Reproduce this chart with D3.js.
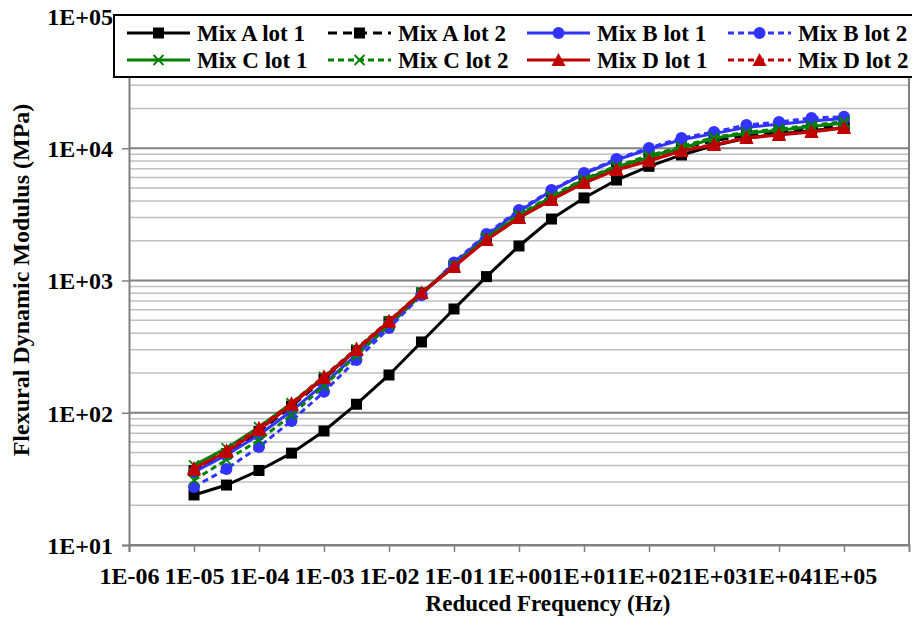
<!DOCTYPE html>
<html>
<head>
<meta charset="utf-8">
<script src="https://cdn.jsdelivr.net/npm/d3@7"></script>
<style>
  html, body { margin: 0; padding: 0; background: #fff; }
  svg text { font-family: "Liberation Serif", "Times New Roman", serif; font-weight: bold; }
</style>
</head>
<body>
<svg id="chart" width="912" height="617"></svg>
<script>
// Reduced frequency (Hz) at half-decade steps
const frequency = [1e-5, 3.16e-5, 1e-4, 3.16e-4, 1e-3, 3.16e-3, 1e-2, 3.16e-2, 1e-1, 3.16e-1,
                   1e0, 3.16e0, 1e1, 3.16e1, 1e2, 3.16e2, 1e3, 3.16e3, 1e4, 3.16e4, 1e5];

// Flexural dynamic modulus (MPa)
const mixALot1 = [23.9, 28.4, 36.6, 49.5, 72.8, 116, 193, 343, 609, 1070, 1824, 2917, 4210, 5750, 7300, 8900, 10500, 11900, 12800, 13600, 14300];
const mixALot2 = [36.5, 49, 72, 112, 180, 295, 488, 805, 1285, 2090, 3080, 4250, 5750, 7200, 8600, 10100, 11400, 12500, 13400, 14200, 14900];
const mixBLot1 = [35.5, 48, 68, 103, 165, 275, 455, 785, 1340, 2200, 3330, 4780, 6400, 8150, 9850, 11600, 12900, 14400, 15200, 16100, 16800];
const mixBLot2 = [27.5, 37.6, 55.1, 86.7, 144, 251, 437, 775, 1370, 2250, 3410, 4830, 6500, 8300, 10050, 11960, 13270, 14990, 15780, 16930, 17300];
const mixCLot1 = [40, 54, 78, 118, 187, 302, 492, 812, 1290, 2080, 3080, 4250, 5700, 7150, 8550, 10000, 11900, 13000, 13700, 14600, 15500];
const mixCLot2 = [31, 44, 62, 96, 160, 272, 460, 790, 1300, 2120, 3150, 4350, 5850, 7350, 8800, 10300, 12100, 13200, 14000, 14900, 15900];
const mixDLot1 = [38.2, 50.5, 74.1, 114.6, 183, 298, 486, 805, 1265, 2025, 2970, 4060, 5460, 6850, 8010, 9530, 10590, 11960, 12590, 13270, 14230];
const mixDLot2 = [37, 52, 77, 118, 189, 306, 497, 812, 1280, 2040, 2990, 4100, 5500, 6900, 8100, 9600, 10700, 12050, 12700, 13400, 14350];

const seriesNames = ["Mix A lot 1", "Mix A lot 2", "Mix B lot 1", "Mix B lot 2",
                     "Mix C lot 1", "Mix C lot 2", "Mix D lot 1", "Mix D lot 2"];
const seriesValues = [mixALot1, mixALot2, mixBLot1, mixBLot2, mixCLot1, mixCLot2, mixDLot1, mixDLot2];

const xTickValues = [1e-6, 1e-5, 1e-4, 1e-3, 1e-2, 1e-1, 1e0, 1e1, 1e2, 1e3, 1e4, 1e5];
const yTickValues = [1e1, 1e2, 1e3, 1e4, 1e5];

const xTitle = "Reduced Frequency (Hz)";
const yTitle = "Flexural Dynamic Modulus (MPa)";

// Visual style per series
const styles = [
  { color: "#000000", dash: null,  marker: "square" },
  { color: "#000000", dash: "9,6", marker: "square" },
  { color: "#3333ff", dash: null,  marker: "circle" },
  { color: "#3333ff", dash: "6,4", marker: "circle" },
  { color: "#008000", dash: null,  marker: "cross" },
  { color: "#008000", dash: "6,4", marker: "cross" },
  { color: "#c00000", dash: null,  marker: "triangle" },
  { color: "#c00000", dash: "6,4", marker: "triangle" }
];

const svg = d3.select("#chart");
const plot = { left: 129, right: 909, top: 16, bottom: 545 };

const x = d3.scaleLog().domain([1e-6, 1e6]).range([plot.left, plot.right]);
const y = d3.scaleLog().domain([1e1, 1e5]).range([plot.bottom, plot.top]);

function sci(v) {
  const e = Math.round(Math.log10(v));
  const sign = e < 0 ? "-" : "+";
  return "1E" + sign + String(Math.abs(e)).padStart(2, "0");
}

// Horizontal gridlines: minor then major
const minorTicks = [];
for (let d = 1; d < 5; d++) {
  for (let m = 2; m <= 9; m++) minorTicks.push(m * Math.pow(10, d));
}
svg.append("g").selectAll("line").data(minorTicks).join("line")
  .attr("x1", plot.left).attr("x2", plot.right)
  .attr("y1", d => y(d)).attr("y2", d => y(d))
  .attr("stroke", "#c0c0c0").attr("stroke-width", 1.5);
svg.append("g").selectAll("line").data(yTickValues).join("line")
  .attr("x1", plot.left).attr("x2", plot.right)
  .attr("y1", d => y(d)).attr("y2", d => y(d))
  .attr("stroke", "#808080").attr("stroke-width", 2);

// Plot area right border
svg.append("line")
  .attr("x1", plot.right).attr("x2", plot.right)
  .attr("y1", plot.top).attr("y2", plot.bottom)
  .attr("stroke", "#808080").attr("stroke-width", 2);

// Axes
const xAxis = svg.append("g").attr("transform", `translate(0,${plot.bottom})`)
  .call(d3.axisBottom(x).tickValues(xTickValues).tickFormat(sci).tickSizeOuter(0).tickSize(7).tickPadding(15));
const yAxis = svg.append("g").attr("transform", `translate(${plot.left},0)`)
  .call(d3.axisLeft(y).tickValues(yTickValues).tickFormat(sci).tickSizeOuter(0).tickSize(7).tickPadding(9));
[xAxis, yAxis].forEach(a => {
  a.select(".domain").attr("stroke", "#808080").attr("stroke-width", 2);
  a.selectAll(".tick line").attr("stroke", "#808080").attr("stroke-width", 1.5);
  a.selectAll(".tick text").attr("fill", "#000").attr("font-size", 24)
    .attr("font-family", "Liberation Serif, serif").attr("font-weight", "bold");
});
xAxis.selectAll(".tick text").attr("dy", "0.71em");
yAxis.selectAll(".tick text").attr("dy", "0.35em");

// Axis titles
svg.append("text").attr("x", 548).attr("y", 611).attr("text-anchor", "middle")
  .attr("font-size", 23).text(xTitle);
svg.append("text").attr("transform", "translate(29,280) rotate(-90)").attr("text-anchor", "middle")
  .attr("font-size", 24).text(yTitle);

// Marker drawing
function drawMarker(g, type, color, cx, cy, scale) {
  const s = scale || 1;
  if (type === "square") {
    const h = 5.5 * s;
    g.append("rect").attr("x", cx - h).attr("y", cy - h).attr("width", 2 * h).attr("height", 2 * h)
      .attr("fill", color);
  } else if (type === "circle") {
    g.append("circle").attr("cx", cx).attr("cy", cy).attr("r", 6 * s).attr("fill", color);
  } else if (type === "triangle") {
    const h = 7 * s;
    g.append("path")
      .attr("d", `M${cx},${cy - h}L${cx + h},${cy + h * 0.85}L${cx - h},${cy + h * 0.85}Z`)
      .attr("fill", color);
  } else if (type === "cross") {
    const h = 5 * s;
    g.append("path")
      .attr("d", `M${cx - h},${cy - h}L${cx + h},${cy + h}M${cx - h},${cy + h}L${cx + h},${cy - h}`)
      .attr("stroke", color).attr("stroke-width", 1.8).attr("fill", "none");
  }
}

// Series lines and markers
const line = d3.line().x(d => x(d[0])).y(d => y(d[1]));
seriesValues.forEach((vals, i) => {
  const st = styles[i];
  const pts = frequency.map((f, j) => [f, vals[j]]);
  const g = svg.append("g");
  g.append("path").datum(pts).attr("d", line)
    .attr("fill", "none").attr("stroke", st.color).attr("stroke-width", 3)
    .attr("stroke-dasharray", st.dash);
  pts.forEach(p => drawMarker(g, st.marker, st.color, x(p[0]), y(p[1])));
});

// Legend
const legend = svg.append("g");
legend.append("rect").attr("x", 114).attr("y", 15).attr("width", 810).attr("height", 62)
  .attr("fill", "#fff").attr("stroke", "#000").attr("stroke-width", 2);
const colX = [127, 328, 527, 728];
const rowY = [33, 60];
seriesNames.forEach((name, i) => {
  const st = styles[i];
  const cx = colX[i % 4], cy = rowY[Math.floor(i / 4)];
  legend.append("line").attr("x1", cx).attr("x2", cx + 63).attr("y1", cy).attr("y2", cy)
    .attr("stroke", st.color).attr("stroke-width", 3).attr("stroke-dasharray", st.dash);
  drawMarker(legend, st.marker, st.color, cx + 31.5, cy, 1);
  legend.append("text").attr("x", cx + 70).attr("y", cy).attr("dy", "0.35em")
    .attr("font-size", 23).text(name);
});
</script>
</body>
</html>
